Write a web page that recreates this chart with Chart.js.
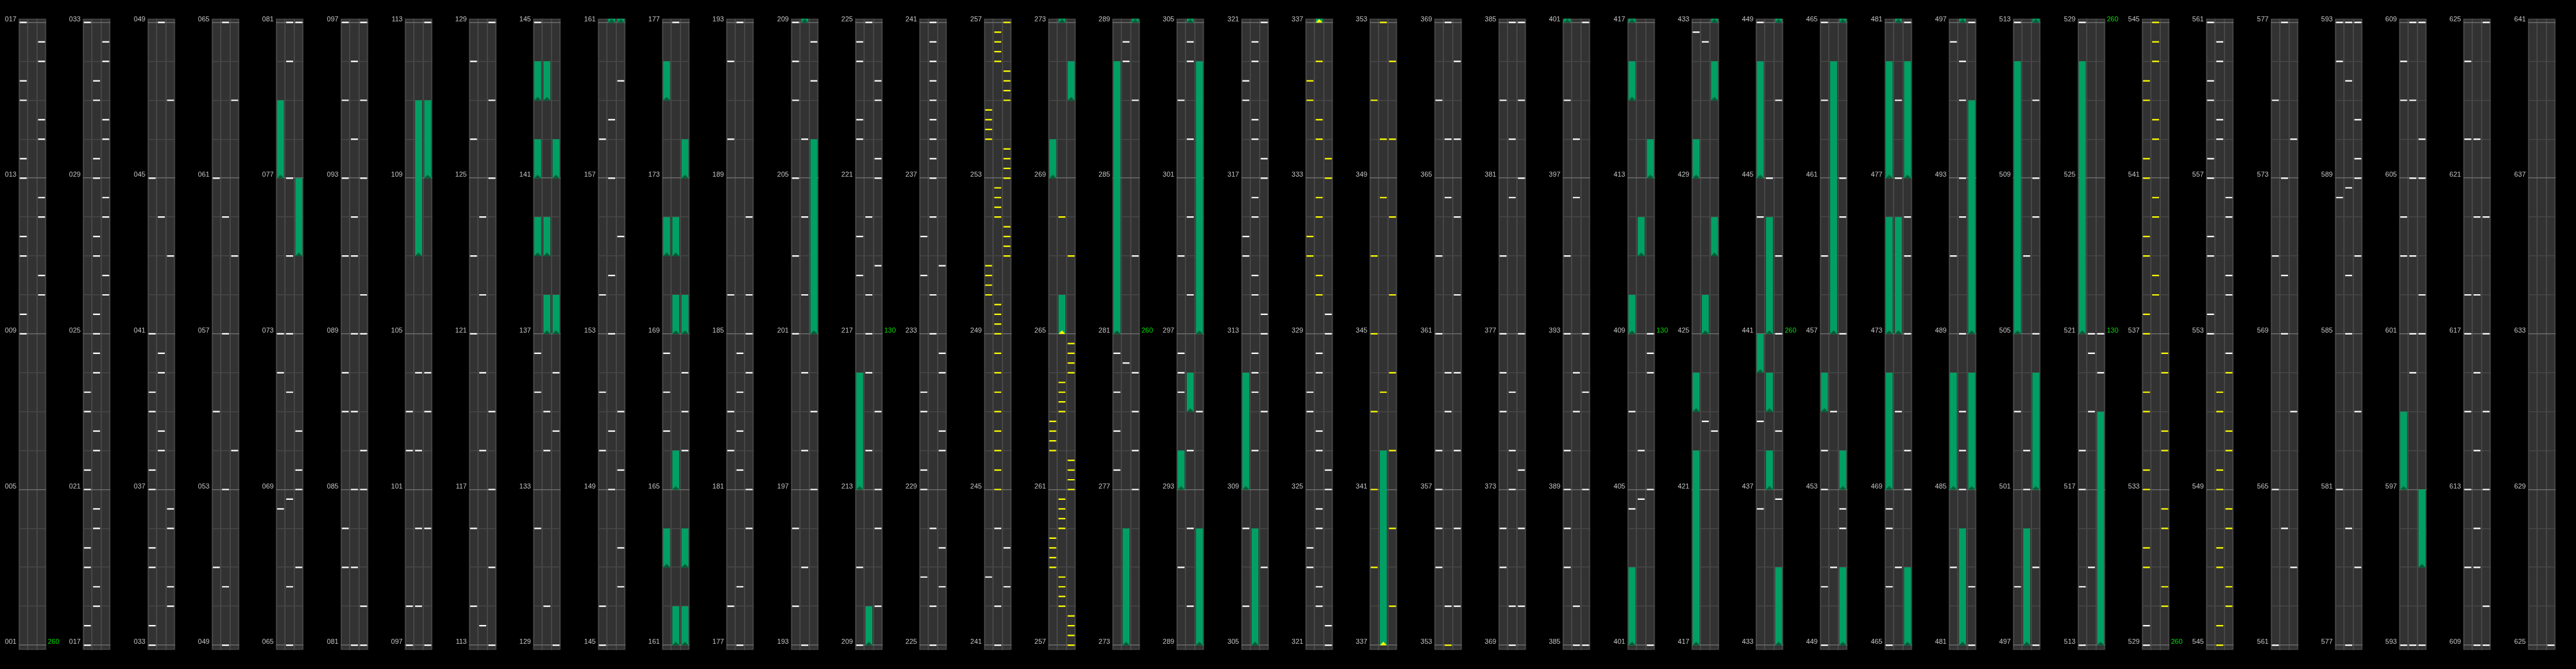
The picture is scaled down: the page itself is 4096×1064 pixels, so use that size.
<!DOCTYPE html>
<html>
<head>
<meta charset="utf-8">
<script src="https://cdn.jsdelivr.net/npm/chart.js@4.4.1/dist/chart.umd.min.js"></script>
<style>
  html, body { margin: 0; padding: 0; background: #000; overflow: hidden; }
  #wrap { position: relative; width: 4096px; height: 1064px; }
  .col { position: absolute; top: 0; width: 102px; height: 1064px; }
</style>
</head>
<body>
<div id="wrap"></div>
<script>
// layout: 40 columns, each one covers 16 beats, 3 lanes
const S = 0.825;
const COLS = 40;
const BEATS_PER_COL = 16;
const COL_W = 124 * S;

// plain notes (white), one list per lane, in beats
const whiteLeft = [9, 9.5, 11, 11.5, 13, 13.5, 15, 15.5, 17, 17.5, 19, 19.5, 21, 21.5, 23, 23.5, 33, 33.5, 35, 35.5, 37, 37.5, 39, 39.5, 41, 45, 51, 55, 61, 68.5, 72, 73, 83, 84, 87, 88, 91, 93, 95, 97, 98, 102, 103, 114, 116, 121, 123, 126, 128, 132, 135.5, 136.5, 145, 146, 150, 151.5, 154, 158, 166.5, 167.5, 168.5, 178, 182, 183, 186, 190, 192, 194, 196, 201, 203, 205, 207, 208, 209, 211, 218.5, 219.5, 222, 222.5, 224, 224.5, 226.75, 229, 229.5, 231, 231.5, 234.5, 235.5, 242.75, 277.5, 278.5, 279.5, 280.5, 291, 295.5, 296, 296.5, 299, 303, 306, 308, 315, 315.5, 319, 319.5, 323, 323.5, 327, 327.5, 355, 356, 357, 358, 361, 363, 367, 371, 372, 375, 376, 377, 379, 383, 387, 388, 389, 390, 393, 395, 399, 404.5, 407, 432.75, 436.5, 438.75, 444, 449, 450.5, 453, 454, 459, 463, 465, 466.5, 468, 468.5, 483, 491, 496.5, 498.5, 503, 513, 514.5, 517, 518, 529, 529.5, 553, 553.5, 555, 555.5, 557, 557.5, 559, 559.5, 561, 565, 571, 575, 581, 588.5, 592, 593, 603, 604, 607, 608, 611, 613, 615, 617, 618, 622, 624];
const whiteMid = [18, 18.5, 20, 20.5, 22, 22.5, 24, 24.5, 25, 25.5, 27, 27.5, 29, 29.5, 31, 31.5, 38, 38.5, 40, 40.5, 44, 49, 50.5, 53, 57, 60, 65, 66.5, 68.75, 71.5, 73, 75, 77, 80, 81, 83, 85, 87, 89, 91, 92, 94, 96, 98, 100, 102, 104, 113.5, 118, 120, 122, 124, 130, 134, 135, 149, 150.5, 153, 154.5, 157, 158.5, 177, 178.5, 181.5, 182.5, 183.5, 184.5, 193, 195, 198, 200, 202, 204, 206, 214, 216, 217, 218, 220, 225, 226, 228, 233, 234, 236, 237, 237.5, 238, 238.5, 239, 239.5, 240, 240.5, 241, 242, 244, 280.25, 288, 288.5, 290, 292, 294, 298, 300, 302, 304, 304.5, 310, 311.5, 312, 312.5, 314, 314.5, 316, 316.5, 318, 318.5, 320, 320.5, 322, 322.5, 324, 324.5, 326, 326.5, 328, 328.5, 354, 359, 360, 364.5, 366, 369, 370, 373, 374, 375.5, 380.5, 382, 385, 386, 391, 392, 396.5, 398, 404.75, 406, 422.75, 432.5, 445, 451, 455, 467, 471, 477, 479, 485, 486, 487, 489, 492, 493, 495, 496, 501, 502, 507, 515, 519, 520.5, 521, 558, 558.5, 560, 560.5, 564, 569, 570.5, 573, 577, 580, 585, 586.5, 588.75, 591.5, 593, 600, 601, 603, 605, 607, 609, 611, 612, 614, 616, 618, 620, 622];
const whiteRight = [10, 10.5, 12, 12.5, 14, 14.5, 16, 16.5, 26, 26.5, 28, 28.5, 30, 30.5, 32, 32.5, 34, 34.5, 36, 36.5, 43, 47, 54, 59, 63, 67, 69, 69.5, 70.5, 81, 82, 85, 86, 89, 90, 93, 95, 97, 100, 103, 104, 113, 115, 117, 119, 125, 127, 129, 134.5, 136, 146.5, 147.5, 149.5, 151, 155.5, 159.5, 166, 167, 168, 180, 181, 184, 185, 186, 188, 197, 199, 207.5, 208.5, 210, 212, 213, 215, 218.75, 221, 221.5, 223, 223.5, 226.5, 227.5, 230, 230.5, 232, 232.5, 234.75, 242.5, 243.5, 277, 278, 279, 280, 283, 287, 295, 307, 311, 313, 313.5, 317, 317.5, 321, 321.5, 325, 325.5, 329, 329.5, 354, 356, 358, 360, 362, 364, 366, 368, 370, 372, 373.5, 377, 381, 383, 385, 389, 391.5, 393, 401, 405, 408, 408.5, 409, 422.5, 436.75, 438.5, 441, 443, 447, 452, 452.5, 457, 460, 461, 469, 470, 473, 475, 476, 481, 482.5, 497, 499, 505, 508, 509, 511, 520, 521, 552.5, 554, 554.5, 556, 556.5, 563, 567, 574, 579, 583, 587, 589, 589.5, 590.5, 593, 601, 602, 605, 606, 609, 610, 613, 615, 617, 620, 625];

// off-beat notes (yellow)
const yellowLeft = [250, 250.25, 250.5, 250.75, 254, 254.25, 254.5, 254.75, 259, 259.25, 259.5, 259.75, 262, 262.25, 262.5, 262.75, 331, 331.5, 335, 335.5, 339, 341, 343, 345, 347, 351, 531, 531.5, 533, 533.5, 535, 535.5, 537, 537.5, 539, 539.5, 541, 541.5, 543, 543.5];
const yellowMid = [245, 245.5, 246, 246.5, 247, 247.5, 248, 248.5, 249, 249.25, 249.5, 249.75, 252, 252.25, 252.5, 252.75, 256, 256.25, 256.5, 256.75, 258, 258.25, 258.5, 258.75, 260, 260.25, 260.5, 260.75, 263, 263.25, 263.5, 263.75, 268, 330, 330.5, 332, 332.5, 334, 334.5, 336, 343.5, 348.5, 350, 353, 538, 538.5, 540, 540.5, 542, 542.5, 544, 544.5, 545, 545.5, 547, 547.5, 549, 549.5, 551, 551.5];
const yellowRight = [251, 251.25, 251.5, 251.75, 253, 253.25, 253.5, 253.75, 255, 255.25, 255.5, 255.75, 257, 257.25, 257.5, 257.75, 261, 261.25, 261.5, 261.75, 264, 264.25, 264.5, 264.75, 267, 333, 333.5, 338, 340, 342, 344, 346, 348, 350, 352, 530, 530.5, 532, 532.5, 534, 534.5, 536, 536.5, 546, 546.5, 548, 548.5, 550, 550.5, 552];

// holds [start, end] per lane
const holdLeft = [[77, 79], [139, 140], [141, 142], [143, 144], [163, 164], [171, 172], [175, 176], [213, 216], [269, 270], [281, 288], [293, 294], [309, 312], [401, 403], [409, 410], [415, 416], [417, 422], [423, 424], [429, 430], [440, 441], [445, 448], [455, 456], [469, 472], [473, 476], [477, 480], [485, 488], [505, 512], [521, 528], [597, 599]];
const holdMid = [[107, 111], [137, 138], [139, 140], [143, 144], [161, 162], [165, 166], [169, 170], [171, 172], [209, 210], [265, 266], [273, 276], [295, 296], [305, 308], [337, 342], [411, 412], [425, 426], [437, 438], [439, 440], [441, 444], [457, 464], [473, 476], [481, 484], [497, 500]];
const holdRight = [[75, 77], [109, 111], [137, 138], [141, 142], [161, 162], [163, 164], [169, 170], [173, 174], [201, 206], [271, 272], [289, 292], [297, 304], [413, 414], [427, 428], [431, 432], [433, 435], [449, 451], [453, 454], [465, 467], [477, 480], [485, 488], [489, 495], [501, 504], [513, 519], [595, 597]];
const yellowHeadStarts = [265, 337];

// tempo marks
const bpmBeats = [1, 217, 281, 409, 441, 521, 529];
const bpmValues = [260, 130, 260, 130, 260, 130, 260];

const whiteLanes = [whiteLeft, whiteMid, whiteRight];
const yellowLanes = [yellowLeft, yellowMid, yellowRight];
const holdLanes = [holdLeft, holdMid, holdRight];

// small triangle drawn at the start of a hold (base sits on the point)
function headImage(color) {
  const c = document.createElement('canvas');
  c.width = 11; c.height = 12;
  const g = c.getContext('2d');
  g.fillStyle = color;
  g.beginPath();
  g.moveTo(0, 6.2);
  g.lineTo(5.5, 0.6);
  g.lineTo(11, 6.2);
  g.closePath();
  g.fill();
  return c;
}
const darkHead = headImage('#005c34');
const yellowHead = headImage('#ffff00');

const stripBg = {
  id: 'stripBg',
  beforeDraw(chart) {
    const { ctx, chartArea: a } = chart;
    ctx.save();
    ctx.fillStyle = '#474747';
    ctx.fillRect(a.left, a.top, a.width, a.height);
    ctx.fillStyle = '#323232';
    ctx.fillRect(a.left + 2, a.top + 1.5, a.width - 4, a.height - 3);
    ctx.restore();
  }
};

const labelFont = { family: "'Liberation Sans', Arial, sans-serif", size: 11 };

function buildColumn(canvas, col) {
  const base = col * BEATS_PER_COL;
  const first = base + 1, last = base + 17;
  const yMin = base + 0.88, yMax = base + 17.097;
  const inCol = v => v >= first && v <= last;

  const white = [], yellow = [], bars = [], heads = [], yHeads = [];
  whiteLanes.forEach((list, lane) => list.filter(inCol).forEach(v => white.push({ x: lane, y: v })));
  yellowLanes.forEach((list, lane) => list.filter(inCol).forEach(v => yellow.push({ x: lane, y: v })));
  holdLanes.forEach((list, lane) => list.forEach(([s, e]) => {
    if (e > yMin && s < yMax) bars.push({ x: lane, y: [s, e] });
    if (inCol(s)) (yellowHeadStarts.includes(s) ? yHeads : heads).push({ x: lane, y: s });
  }));

  const beatTicks = [];
  for (let v = first; v <= last; v++) beatTicks.push({ value: v });
  const bpmTicks = bpmBeats.filter(inCol).map(v => ({ value: v }));

  const noteSet = (data, color) => ({
    type: 'scatter', data, order: 1, clip: 0,
    pointStyle: 'line', pointRadius: 5.5, pointBorderWidth: 2.2,
    pointBorderColor: color, pointBackgroundColor: color
  });
  const headSet = (data, img) => ({
    type: 'scatter', data, order: 2, clip: 0,
    pointStyle: img, pointRadius: 6
  });

  return new Chart(canvas, {
    type: 'bar',
    data: {
      datasets: [
        { type: 'bar', data: bars, order: 3, clip: 0, backgroundColor: '#00a064',
          borderWidth: 0, barThickness: 11, inflateAmount: 0, grouped: false },
        headSet(heads, darkHead),
        headSet(yHeads, yellowHead),
        noteSet(white, '#ffffff'),
        noteSet(yellow, '#ffff00')
      ]
    },
    options: {
      responsive: false,
      animation: false,
      events: [],
      layout: { padding: { top: 29.7, bottom: 30.5, left: 0, right: 0 } },
      plugins: { legend: { display: false }, tooltip: { enabled: false } },
      scales: {
        x: {
          type: 'linear', min: -0.5, max: 2.5, offset: false,
          afterBuildTicks: s => { s.ticks = [{ value: 0.5 }, { value: 1.5 }]; },
          afterFit: s => { s.height = 0; },
          ticks: { display: false },
          grid: { color: '#474747', lineWidth: 2, drawTicks: false, offset: false },
          border: { display: false }
        },
        y: {
          type: 'linear', position: 'left', min: yMin, max: yMax,
          afterBuildTicks: s => { s.ticks = beatTicks.map(t => ({ ...t })); },
          afterFit: s => { s.width = 29.7; },
          ticks: {
            autoSkip: false, padding: 3.5, labelOffset: -5, color: '#c4c4c4', font: labelFont,
            callback: v => ((v - 1) % 4 === 0 ? String(v).padStart(3, '0') : '')
          },
          grid: {
            drawTicks: false, lineWidth: 1.6,
            color: c => (c.tick && (c.tick.value - 1) % 4 === 0 ? '#6c6c6c' : '#474747')
          },
          border: { display: false }
        },
        y2: {
          type: 'linear', position: 'right', min: yMin, max: yMax,
          afterBuildTicks: s => { s.ticks = bpmTicks.map(t => ({ ...t })); },
          afterFit: s => { s.width = 102 - 73.4; },
          ticks: {
            autoSkip: false, padding: 2.5, labelOffset: -5, color: '#00e000', font: labelFont,
            callback: v => String(bpmValues[bpmBeats.indexOf(v)])
          },
          grid: { display: false, drawTicks: false },
          border: { display: false }
        }
      }
    },
    plugins: [stripBg]
  });
}

const wrap = document.getElementById('wrap');
for (let col = 0; col < COLS; col++) {
  const div = document.createElement('div');
  div.className = 'col';
  div.style.left = Math.round(col * COL_W) + 'px';
  const cv = document.createElement('canvas');
  cv.width = 102;
  cv.height = 1064;
  div.appendChild(cv);
  wrap.appendChild(div);
  buildColumn(cv, col);
}
</script>
</body>
</html>
